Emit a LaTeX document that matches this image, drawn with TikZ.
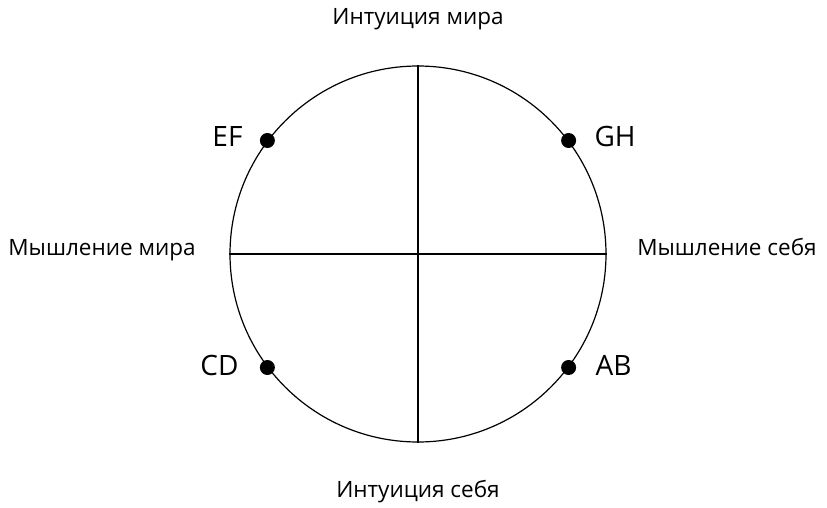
\documentclass[tikz,border=0pt]{standalone}
\usepackage{fontspec}
\setmainfont{Open Sans}
\usetikzlibrary{positioning}

\begin{document}
\begin{tikzpicture}[x=1pt,y=1pt,axislbl/.style={font=\fontsize{22.5}{26}\selectfont,anchor=base},ptlbl/.style={font=\fontsize{28}{32}\selectfont,anchor=base},pt/.style={circle,fill=black,inner sep=0pt,minimum size=15pt}]
\useasboundingbox(0,0)rectangle(827,507);

% circle split into four quarters
\node[circle,draw,line width=1.2pt,inner sep=0pt,minimum size=376pt](wheel)at(418,253){};
\draw[line width=1.2pt](wheel.north)--(wheel.south);
\draw[line width=1.2pt](wheel.west)--(wheel.east);

\node[axislbl](ti)at(418,482){Интуиция мира};
\node[axislbl](bi)at(418,10){Интуиция себя};
\node[axislbl](lt)at(102,252){Мышление мира};
\node[axislbl](rt)at(727,252){Мышление себя};

% points on the rim
\node[pt](gh)at(wheel.37){};
\node[pt](ef)at(wheel.143){};
\node[pt](cd)at(wheel.217){};
\node[pt](ab)at(wheel.323){};
\node[ptlbl,anchor=base east](efl)at(246,360){EF};
\node[ptlbl,anchor=base west](ghl)at(591,360){GH};
\node[ptlbl,anchor=base east](cdl)at(242,132){CD};
\node[ptlbl,anchor=base west](abl)at(592,132){AB};
\end{tikzpicture}
\end{document}
